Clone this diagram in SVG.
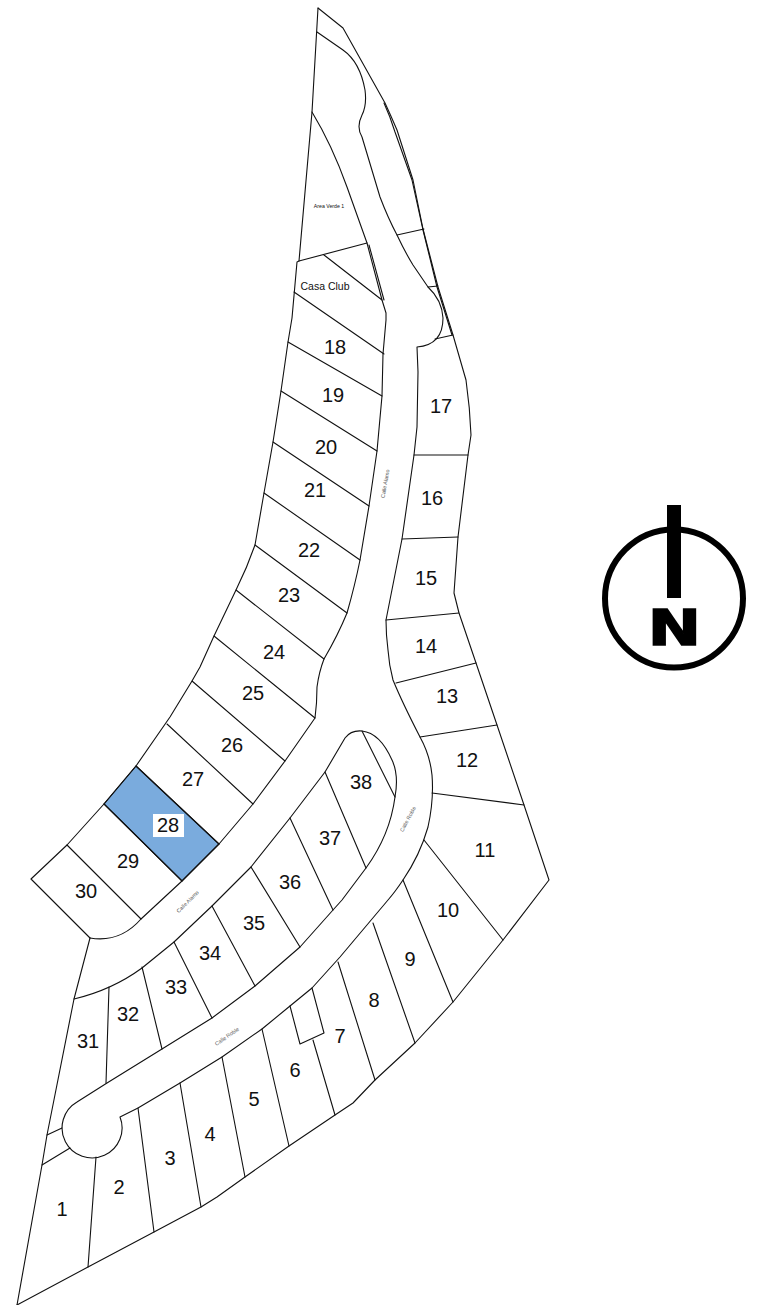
<svg xmlns="http://www.w3.org/2000/svg" width="768" height="1305" viewBox="0 0 768 1305">
<style>
.l{fill:none;stroke:#111;stroke-width:1.1;stroke-linejoin:round;stroke-linecap:round}
text{font-family:"Liberation Sans",Arial,sans-serif;fill:#111;text-anchor:middle}
.n{font-size:20px;dominant-baseline:central}
.s{font-size:5.4px;fill:#555}
</style>
<rect width="768" height="1305" fill="#fff"/>
<g id="lot-28-fill"><polygon points="136,766 219,844 182,881 104,804" fill="#7aabdd" stroke="#111" stroke-width="1.1"/><rect x="153" y="814" width="31" height="23" fill="#fff"/></g>
<g id="connectors">
<path class="l" id="boundary-right" d="M318,8L343,28L385,103Q391,116 397,130L413,180L423,229L438,287L453,335L466,380Q470,408 471,435L468,455L458,537L454,593L459,613L476,663L497,725L524,805L549,880L503,940L453,1002L415,1043L375,1080L353,1103L335,1115L289,1146L245,1177L217,1197L201,1207L154,1232L88,1267L17,1305"/>
<path class="l" id="boundary-right-inner" d="M384,103Q390,116 395,132L412,180L423,230L437,287L452,335"/>
<path class="l" id="boundary-left" d="M318,8L312,112L299,261L297,262L292,318L288,342L281,391L273,442L264,493L255,545Q247,568 236,590L214,636L200,667L192,681L170,717L136,766L104,804L67,845L31,879L90,938"/>
<path class="l" id="boundary-sw" d="M90,938L74,999L47,1135L42,1165L17,1305"/>
<path class="l" id="road-west" d="M90,938Q120,943 141,919L182,881L219,844L253,804L285,761L315,718Q317,703 317,687Q319,672 324,659Q338,635 347,613Q355,585 360,560L369,506L377,451L382,396L383,354L386,320L386,313L382,300L367,243L347,187Q332,145 312,112"/>
<path class="l" id="road-casa-double" d="M369,245L384,300"/>
<path class="l" id="road-east-upper" d="M317,32L343,50Q360,62 365,90Q367,105 362,115Q356,127 362,137L380,197Q388,218 397,235Q405,252 413,265L428,287Q442,300 443,318Q443,345 417,347L418,372L417,427L414,455L402,539L386,620Q386,635 388,650Q389,665 393,680Q402,702 420,737Q430,755 432,775Q434,800 428,827Q420,855 403,880Q395,892 388,900L340,957L312,988L290,1006L262,1029L222,1057L180,1083L138,1108L120,1117A30,30 0 1 1 77,1102L107,1083L162,1049L212,1018L255,986L285,960L300,947L333,910L342,900L366,868Q390,835 395,797Q399,775 392,760Q380,733 362,731Q351,730 345,738L325,772L290,818L251,867L212,906L174,942L142,968Q112,990 74,999"/>
<path class="l" id="lot-lines" d="M299,261L367,243M324,255L382,300M294,292L384,354M288,342L382,396M281,391L377,451M273,442L369,506M264,493L360,560M255,545L347,613M236,590L324,659M214,636L315,718M192,681L285,761M167,724L253,804M136,766L219,844M104,804L182,881M67,845L141,919M109,987L106,1083M142,967L162,1049M174,942L212,1018M212,906L255,986M251,867L300,947M290,818L333,910M325,772L366,868M362,731L395,797M47,1135L62,1128M42,1165L70,1148M96,1157L88,1267M138,1108L154,1232M180,1083L201,1207M222,1057L245,1177M262,1029L289,1146M290,1006L300,1044L324,1033L312,988M313,1040L335,1115M338,962L375,1080M373,923L415,1043M403,880L453,1002M424,840L503,940M432,793L524,805M420,737L497,725M396,683L476,663M386,620L459,613M402,539L458,537M414,455L468,455M397,235L424,229M428,287L438,286M435,339L453,335"/>
</g>
<g id="lots">
<text class="n" x="62" y="1209">1</text><text class="n" x="119" y="1187">2</text><text class="n" x="170" y="1158">3</text><text class="n" x="210" y="1134">4</text><text class="n" x="254" y="1099">5</text><text class="n" x="295" y="1070">6</text><text class="n" x="340" y="1036">7</text><text class="n" x="374" y="1000">8</text><text class="n" x="410" y="959">9</text><text class="n" x="448" y="910">10</text><text class="n" x="485" y="850">11</text><text class="n" x="467" y="760">12</text><text class="n" x="447" y="696">13</text><text class="n" x="426" y="646">14</text><text class="n" x="426" y="578">15</text><text class="n" x="432" y="498">16</text><text class="n" x="441" y="406">17</text><text class="n" x="335" y="347">18</text><text class="n" x="333" y="395">19</text><text class="n" x="326" y="447">20</text><text class="n" x="315" y="490">21</text><text class="n" x="309" y="550">22</text><text class="n" x="289" y="595">23</text><text class="n" x="274" y="652">24</text><text class="n" x="253" y="693">25</text><text class="n" x="232" y="745">26</text><text class="n" x="193" y="779">27</text><text class="n" x="168" y="825">28</text><text class="n" x="128" y="861">29</text><text class="n" x="86" y="891">30</text><text class="n" x="88" y="1041">31</text><text class="n" x="128" y="1014">32</text><text class="n" x="176" y="987">33</text><text class="n" x="210" y="953">34</text><text class="n" x="254" y="923">35</text><text class="n" x="290" y="882">36</text><text class="n" x="330" y="838">37</text><text class="n" x="361" y="782">38</text>
<text x="325" y="290" font-size="10.5">Casa Club</text>
<text x="329" y="208" font-size="5.2" fill="#444">Area Verde 1</text>
</g>
<g id="street-labels">
<text class="s" transform="translate(387,484) rotate(-80)">Calle Alamo</text>
<text class="s" transform="translate(409.5,820) rotate(-62)">Calle Roble</text>
<text class="s" transform="translate(189,903) rotate(-45)">Calle Alamo</text>
<text class="s" transform="translate(228,1038) rotate(-35)">Calle Roble</text>
</g>
<g id="north-arrow">
<circle cx="674" cy="598.5" r="69" fill="none" stroke="#000" stroke-width="6"/>
<rect x="667" y="505" width="14" height="93" fill="#000"/>
<text transform="translate(674.5,645) scale(1.3,1)" font-size="49" font-weight="bold" stroke="#000" stroke-width="1.5" style="font-family:'DejaVu Sans',sans-serif;fill:#000">N</text>
</g>
</svg>
